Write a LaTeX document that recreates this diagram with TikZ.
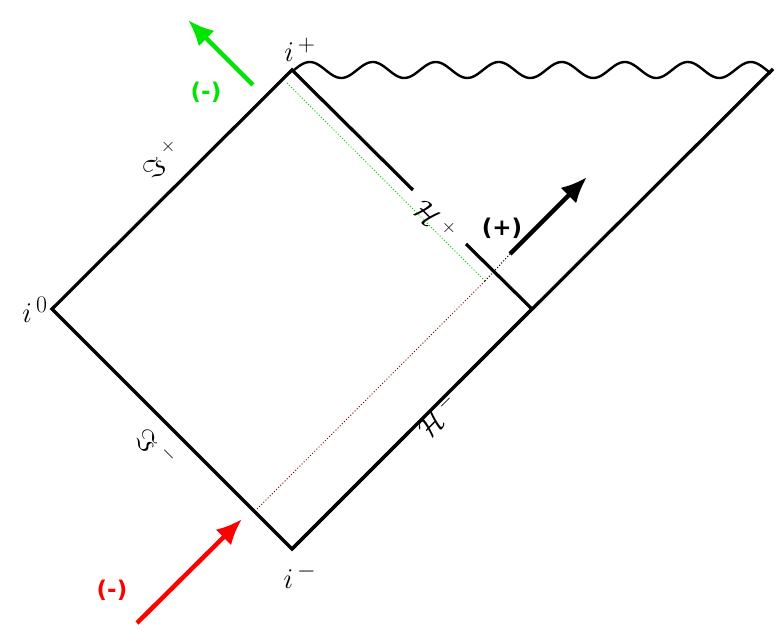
\documentclass[tikz,border=0pt]{standalone}
\usepackage{fontspec}
\newfontfamily\signfont{DejaVu Sans}
\usepackage{amsmath, amssymb}
\usetikzlibrary{positioning,arrows.meta}
\newcommand{\cornerlab}[1]{\scalebox{1.15}{$#1$}}

\begin{document}
\begin{tikzpicture}[x=1pt, y=-1pt, line width=3.2pt,
  lbl/.style={font=\Huge},
  sign/.style={font=\signfont\bfseries\fontsize{23}{26}\selectfont},
  ray/.style={line width=4.5pt, -{Latex[length=26pt,width=22pt]}},
  trace/.style={line width=1pt, dotted}]
\useasboundingbox (0,0) rectangle (780,644);

% corners of the diagram
\coordinate (i0) at (52,309);
\coordinate (ip) at (292,70);
\coordinate (im) at (292,549);
\coordinate (hc) at (532,309);
\coordinate (rt) at (773,69);
\coordinate (hpa) at (413,190);
\coordinate (hpb) at (466,244);
\coordinate (hma) at (409,432);
\coordinate (hmb) at (458,383);

\draw (hc) -- (im) -- (i0) -- (ip) -- (hpa);
\draw (hpb) -- (hc);
\draw (im) -- (hma);
\draw (hmb) -- (rt);
\draw[line width=2.4pt] plot[domain=294:771, samples=240] (\x, {70 - 8*sin(5.714*(\x-294))});

% labels
\node[lbl] (lip) at (300,50) {\cornerlab{i^{\,+}}};
\node[lbl] (li0) at (35,310) {\cornerlab{i^{\,0}}};
\node[lbl] (lim) at (300,576) {\cornerlab{i^{\,-}}};
\node[lbl, rotate=45] (lsp) at (162,160) {\cornerlab{\Im^{\;\scriptscriptstyle +}}};
\node[lbl, rotate=-45] (lsm) at (156,448) {\cornerlab{\Im^{\;\scriptscriptstyle -}}};
\node[lbl, rotate=-45] (lhp) at (435,220) {\cornerlab{\mathcal{H}^{\;\scriptscriptstyle +}}};
\node[lbl, rotate=45] (lhm) at (438,416) {\cornerlab{\mathcal{H}^{\;\scriptscriptstyle -}}};

% rays
\coordinate (gs) at (287,83);
\coordinate (ck) at (485,281);
\coordinate (rs) at (255,511);
\coordinate (pt) at (510,254);
\draw[trace, green!80!black] (gs) -- (ck);
\draw[trace, red!50!black] (rs) -- (ck);
\draw[trace] (ck) -- (pt);

\coordinate (ga) at (253,85);
\coordinate (gb) at (188,20);
\coordinate (ra) at (137,623);
\coordinate (rb) at (242,519);
\coordinate (pb) at (587,177);
\draw[ray, green!90!black] (ga) -- (gb);
\draw[ray, red] (ra) -- (rb);
\draw[ray] (pt) -- (pb);

\node[sign, green!90!black] (sg) at (206,92) {(-)};
\node[sign] (sp) at (502,228) {(+)};
\node[sign, red] (sr) at (112,590) {(-)};
\end{tikzpicture}
\end{document}
